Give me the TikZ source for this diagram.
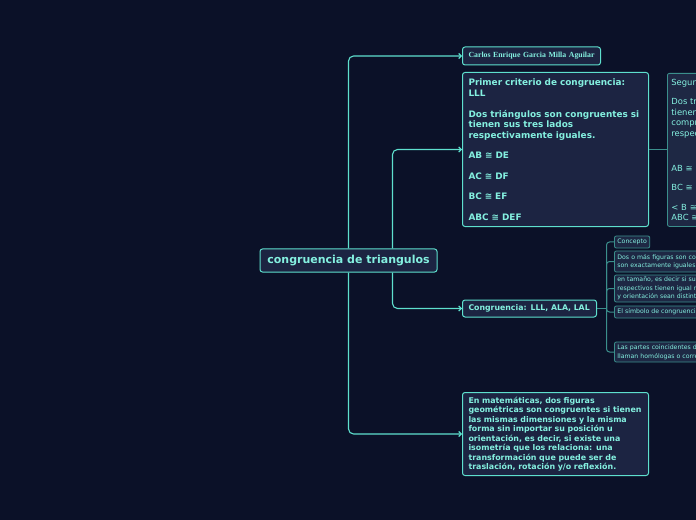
\documentclass[tikz,border=0pt]{standalone}
\usepackage{fontspec}
\setmainfont{DejaVu Sans}
\newfontfamily\namefont{Liberation Serif}
\usetikzlibrary{arrows.meta}

\definecolor{bgC}{HTML}{0B1128}
\definecolor{boxC}{HTML}{1C2442}
\definecolor{lineC}{HTML}{5EE0CE}
\definecolor{twigC}{HTML}{3B8F8C}
\definecolor{leafC}{HTML}{1E2844}
\definecolor{txtC}{HTML}{84F0E0}

\begin{document}
\begin{tikzpicture}[x=1bp,y=-1bp]

% --- Define Styles ---
\tikzset{
    trunk/.style={draw=lineC, line width=1.1bp, rounded corners=5bp, -{Straight Barb[length=2.5bp,width=5bp]}},
    twig/.style={draw=twigC, line width=1bp, rounded corners=3bp},
    topic/.style={draw=lineC, fill=boxC, line width=1bp, rounded corners=2.5bp, text=txtC, inner xsep=6bp, inner ysep=0bp, align=left},
    leaf/.style={draw=twigC, fill=leafC, line width=0.8bp, rounded corners=2bp, text=txtC, inner xsep=3bp, inner ysep=0bp, align=left, font=\fontsize{6.2bp}{8.6bp}\selectfont, minimum height=12bp}
}

% ================= CANVAS =================
\useasboundingbox (0,0) rectangle (696,520);
\fill[bgC] (0,0) rectangle (696,520);
\clip (0,0) rectangle (696,520);

% ================= ROOT =================
\node[topic, align=center, minimum width=177bp, minimum height=23bp, font=\bfseries\fontsize{11bp}{13bp}\selectfont] (root) at (348.5,260.5) {congruencia de triangulos};

% ================= FIRST LEVEL =================
\node[topic, anchor=west, text width=126bp, minimum height=18bp, font=\namefont\bfseries\fontsize{7.8bp}{9bp}\selectfont] (autor) at (462,56) {Carlos Enrique Garcia Milla Aguilar};

\node[topic, anchor=north west, text width=174bp, minimum height=154bp, font=\bfseries\fontsize{8.9bp}{10.5bp}\selectfont] (primer) at (462,72) {%
Primer criterio de congruencia:\\ LLL\\[10.5bp]
Dos triángulos son congruentes si\\ tienen sus tres lados\\ respectivamente iguales.\\[10bp]
AB ≅ DE\\[10bp]
AC ≅ DF\\[10bp]
BC ≅ EF\\[10bp]
ABC ≅ DEF};

\node[topic, anchor=west, text width=122bp, minimum height=17bp, font=\bfseries\fontsize{7.8bp}{9bp}\selectfont] (criterios) at (462,308.5) {Congruencia: LLL, ALA, LAL};

\node[topic, anchor=north west, text width=174bp, minimum height=83bp, font=\bfseries\fontsize{7.9bp}{9.5bp}\selectfont] (definicion) at (462,392) {%
En matemáticas, dos figuras\\
geométricas son congruentes si tienen\\
las mismas dimensiones y la misma\\
forma sin importar su posición u\\
orientación,  es decir, si existe una\\
isometría que los relaciona: una\\
transformación que puede ser de\\
traslación, rotación y/o reflexión.};

% ================= SECOND LEVEL =================
\node[leaf, anchor=north west, text width=180bp, minimum height=153bp, inner xsep=4bp, font=\fontsize{8.4bp}{10.6bp}\selectfont] (segundo) at (667,73) {%
Segundo criterio de congruencia: LAL\\[8.5bp]
Dos triángulos son congruentes si\\ tienen dos lados y el ángulo\\ comprendido entre ellos\\ respectivamente iguales.\\[25bp]
AB ≅ DE\\[8.5bp]
BC ≅ EF\\[8.5bp]
< B ≅ < E\\
ABC ≅ DEF};

\node[leaf, anchor=west] (concepto) at (614,242) {Concepto};
\node[leaf, anchor=west, text width=200bp, minimum height=21bp] (iguales) at (614,261.5) {Dos o más figuras son congruentes cuando\\ son exactamente iguales};
\node[leaf, anchor=west, text width=200bp, minimum height=27bp] (medida) at (614,288.5) {en tamaño, es decir si sus lados\\ respectivos tienen igual medida\\ y orientación sean distintas.};
\node[leaf, anchor=west, text width=200bp] (simbolo) at (614,312) {El símbolo de congruencia es ≅};
\node[leaf, anchor=west, text width=200bp, minimum height=20bp] (homologas) at (614,352) {Las partes coincidentes de las figuras se\\ llaman homólogas o correspondientes.};

% ================= CONNECTORS =================
\draw[trunk] (root.north) |- (autor.west);
\draw[trunk] ([xshift=44bp]root.north) |- (primer.west);
\draw[trunk] ([xshift=44bp]root.south) |- (criterios.west);
\draw[trunk] (root.south) |- (definicion.west);

\draw[twig] (primer.east) -- (primer.east -| segundo.west);
\coordinate (fork) at (606.5,308.5);
\draw[twig] (criterios.east) -- (fork);
\foreach \n in {concepto, iguales, medida, simbolo, homologas}
    \draw[twig] (fork) |- (\n.west);

\end{tikzpicture}
\end{document}
